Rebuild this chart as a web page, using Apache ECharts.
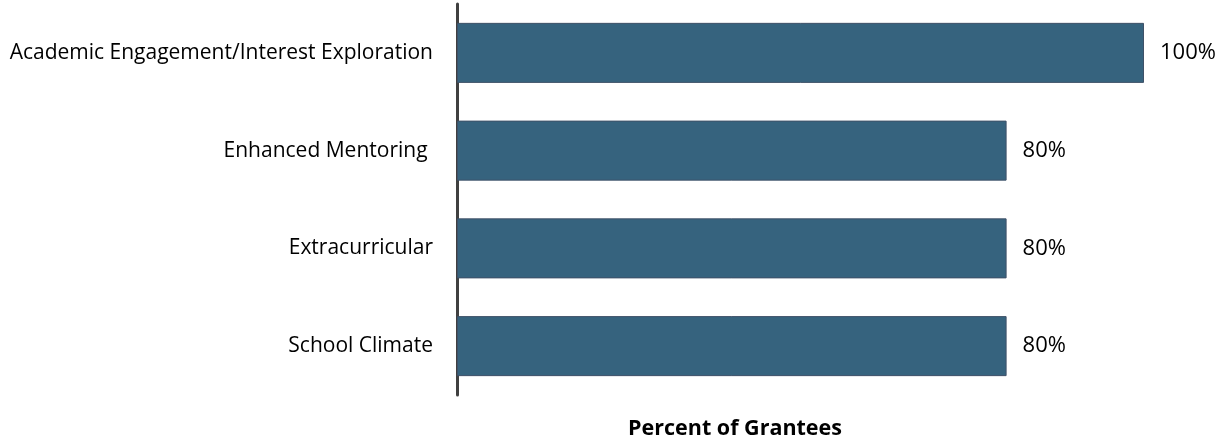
<!DOCTYPE html>
<html>
<head>
<meta charset="utf-8">
<script src="https://cdn.jsdelivr.net/npm/echarts@6/dist/echarts.min.js"></script>
<style>html,body{margin:0;padding:0;background:#fff;}#c{width:1225px;height:443px;}</style>
</head>
<body>
<div id="c"></div>
<script>
const categories = ["Academic Engagement/Interest Exploration", "Enhanced Mentoring ", "Extracurricular", "School Climate"];
const values = [100, 80, 80, 80];
const axisTitle = "Percent of Grantees";

const FONT = 'Open Sans';
const chart = echarts.init(document.getElementById('c'), null, {renderer: 'canvas'});
chart.setOption({
  animation: false,
  backgroundColor: '#ffffff',
  textStyle: {fontFamily: FONT},
  title: {
    text: axisTitle,
    left: 730, top: 413, textAlign: 'center',
    textStyle: {fontFamily: FONT, fontWeight: 'bold', fontSize: 21.5, color: '#000'}
  },
  grid: {left: 457, top: 4, width: 687, height: 391, containLabel: false},
  xAxis: {
    type: 'value', min: 0, max: 100,
    show: false
  },
  yAxis: {
    type: 'category', data: categories, inverse: true,
    axisLine: {show: true, lineStyle: {color: '#404040', width: 3}},
    axisTick: {show: false},
    axisLabel: {color: '#000', fontSize: 21, fontFamily: FONT, margin: 24}
  },
  series: [{
    type: 'bar', data: values, barCategoryGap: '38.6%',
    itemStyle: {color: '#36637E', borderColor: '#3f5168', borderWidth: 1},
    label: {show: true, position: 'right', distance: 16, formatter: '{c}%', color: '#000', fontSize: 22, fontFamily: FONT}
  }]
});
</script>
</body>
</html>
